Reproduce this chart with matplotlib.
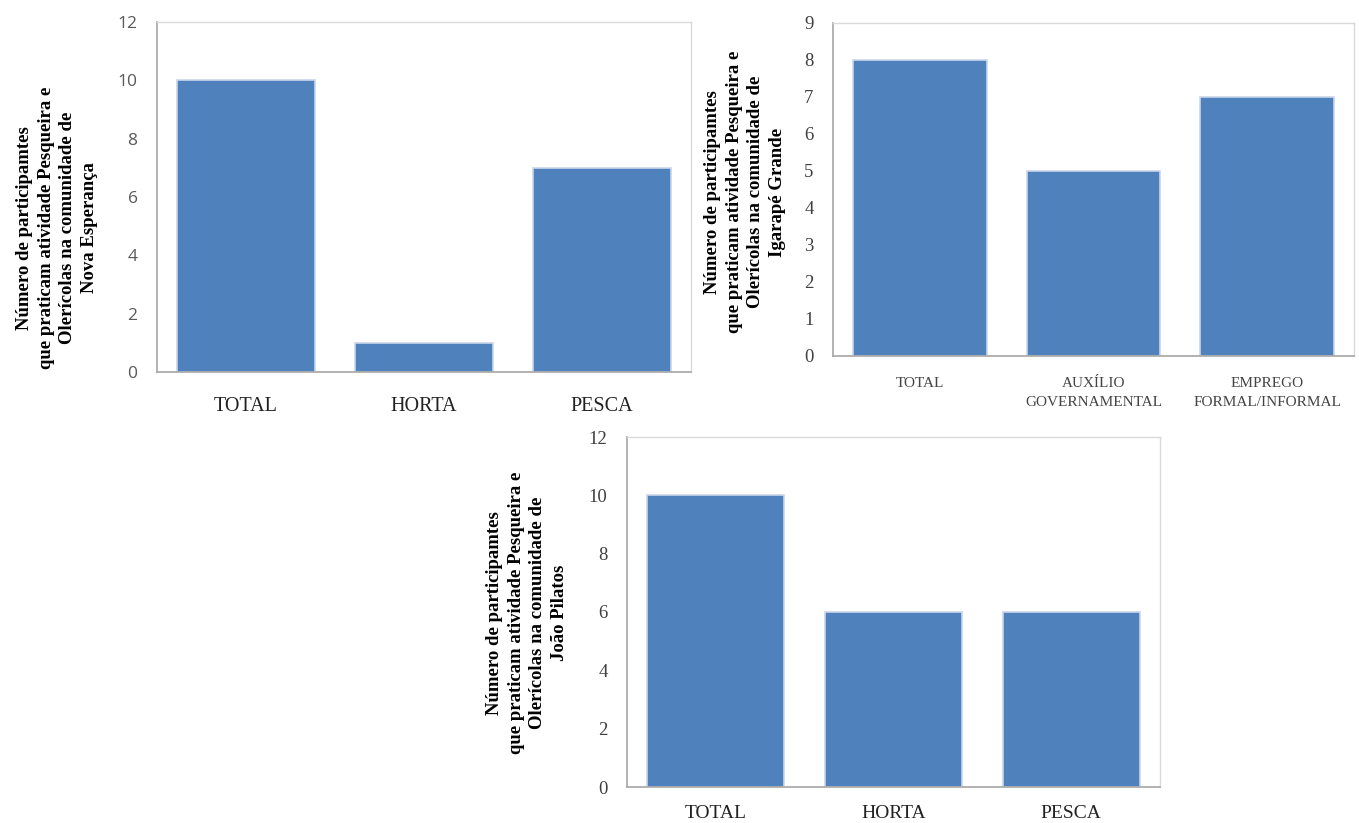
import matplotlib
matplotlib.use("Agg")
import matplotlib.pyplot as plt

# Data
cats1 = ["TOTAL", "HORTA", "PESCA"]
vals1 = [10, 1, 7]
ylabel1 = "Número de participamtes\nque praticam atividade Pesqueira e\nOlerícolas na comunidade de\nNova Esperança"
yticks1 = [0, 2, 4, 6, 8, 10, 12]

cats2 = ["TOTAL", "AUXÍLIO\nGOVERNAMENTAL", "EMPREGO\nFORMAL/INFORMAL"]
vals2 = [8, 5, 7]
ylabel2 = "Número de participamtes\nque praticam atividade Pesqueira e\nOlerícolas na comunidade de\nIgarapé Grande"
yticks2 = [0, 1, 2, 3, 4, 5, 6, 7, 8, 9]

cats3 = ["TOTAL", "HORTA", "PESCA"]
vals3 = [10, 6, 6]
ylabel3 = "Número de participamtes\nque praticam atividade Pesqueira e\nOlerícolas na comunidade de\nJoão Pilatos"
yticks3 = [0, 2, 4, 6, 8, 10, 12]

W, H = 1359, 823
fig = plt.figure(figsize=(W / 100, H / 100), dpi=100)

BAR = "#4F81BD"
EDGE = "#C9D6EA"
SERIF = ["Liberation Serif", "DejaVu Serif"]
SANS = ["Open Sans", "DejaVu Sans"]


def px_axes(x0, y0, x1, y1):
    return fig.add_axes([x0 / W, 1 - y1 / H, (x1 - x0) / W, (y1 - y0) / H])


def panel(ax, cats, vals, yticks, ylabel, tickfont, tickfs, tickcolor, xfs, xcolor, xpad, xls, ylab_xy):
    x = list(range(len(cats)))
    ax.bar(x, vals, width=0.77, color=BAR, edgecolor=EDGE, linewidth=1.2, zorder=2)
    ax.set_xlim(-0.5, len(cats) - 0.5)
    ax.set_ylim(yticks[0], yticks[-1])
    ax.set_yticks(yticks)
    ax.set_xticks(x)
    ax.set_xticklabels(cats, fontfamily=SERIF, fontsize=xfs, color=xcolor,
                       linespacing=xls)
    for lab in ax.get_yticklabels():
        lab.set_fontfamily(tickfont)
        lab.set_fontsize(tickfs)
        lab.set_color(tickcolor)
    ax.tick_params(axis="y", length=0, pad=14)
    ax.tick_params(axis="x", length=0, pad=xpad)
    for s in ["top", "right"]:
        ax.spines[s].set_color("#DADADA")
        ax.spines[s].set_linewidth(1.0)
    for s in ["left", "bottom"]:
        ax.spines[s].set_color("#A6A6A6")
        ax.spines[s].set_linewidth(1.2)
    fig.text(ylab_xy[0] / W, 1 - ylab_xy[1] / H, ylabel, rotation=90,
             ha="center", va="center", multialignment="center",
             fontfamily=SERIF, fontweight="bold", fontsize=13.5, linespacing=1.38)


ax1 = px_axes(157, 22, 691, 372)
panel(ax1, cats1, vals1, yticks1, ylabel1, SANS, 12.5, "#595959", 14.5, "#222222", 18, 1.3, (57, 228))

ax2 = px_axes(833, 23, 1354, 356)
panel(ax2, cats2, vals2, yticks2, ylabel2, SERIF, 13.5, "#404040", 11, "#444444", 15, 1.6, (745, 192))

ax3 = px_axes(627, 437, 1160, 787)
panel(ax3, cats3, vals3, yticks3, ylabel3, SERIF, 13.5, "#404040", 14, "#222222", 13, 1.3, (527, 613))

fig.savefig("out.png", dpi=100)
